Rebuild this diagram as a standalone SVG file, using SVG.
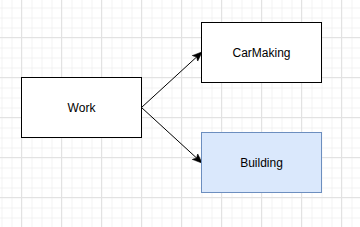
<svg xmlns="http://www.w3.org/2000/svg" width="360" height="227" viewBox="0 0 360 227">
  <defs>
    <pattern id="minor" x="1.5" y="7.5" width="10" height="10" patternUnits="userSpaceOnUse">
      <path d="M0 0.5H10M0.5 0V10" fill="none" stroke="#f2f2f2" stroke-width="1"/>
    </pattern>
    <pattern id="major" x="21" y="37" width="40" height="40" patternUnits="userSpaceOnUse">
      <path d="M0 0.5H40M0.5 0V40" fill="none" stroke="#e2e2e2" stroke-width="1"/>
    </pattern>
    <marker id="arrow" viewBox="0 0 10 10" refX="9" refY="5" markerWidth="10" markerHeight="10" markerUnits="userSpaceOnUse" orient="auto">
      <path d="M0 1 L10 5 L0 9 L2.5 5 Z" fill="#000" stroke="#000" stroke-width="0.5"/>
    </marker>
  </defs>
  <style>
    .box { fill: #ffffff; stroke: #000000; stroke-width: 1; }
    .blue { fill: #dae8fc; stroke: #6c8ebf; stroke-width: 1; }
    .label { font-family: "Liberation Sans", Arial, sans-serif; font-size: 12px; fill: #000; text-anchor: middle; dominant-baseline: central; }
    .edge { fill: none; stroke: #000; stroke-width: 1; marker-end: url(#arrow); }
  </style>
  <rect width="360" height="227" fill="#ffffff"/>
  <rect width="360" height="227" fill="url(#minor)"/>
  <rect width="360" height="227" fill="url(#major)"/>
  <g id="connectors">
    <path class="edge" d="M141.5 107.5 L201.5 52.5"/>
    <path class="edge" d="M141.5 107.5 L201.5 162.5"/>
  </g>
  <g id="work">
    <rect class="box" x="21.5" y="77.5" width="120" height="60"/>
    <text class="label" x="81.5" y="107.5">Work</text>
  </g>
  <g id="carmaking">
    <rect class="box" x="201.5" y="22.5" width="120" height="60"/>
    <text class="label" x="261.5" y="52.5">CarMaking</text>
  </g>
  <g id="building">
    <rect class="blue" x="201.5" y="132.5" width="120" height="60"/>
    <text class="label" x="261.5" y="162.5">Building</text>
  </g>
</svg>
